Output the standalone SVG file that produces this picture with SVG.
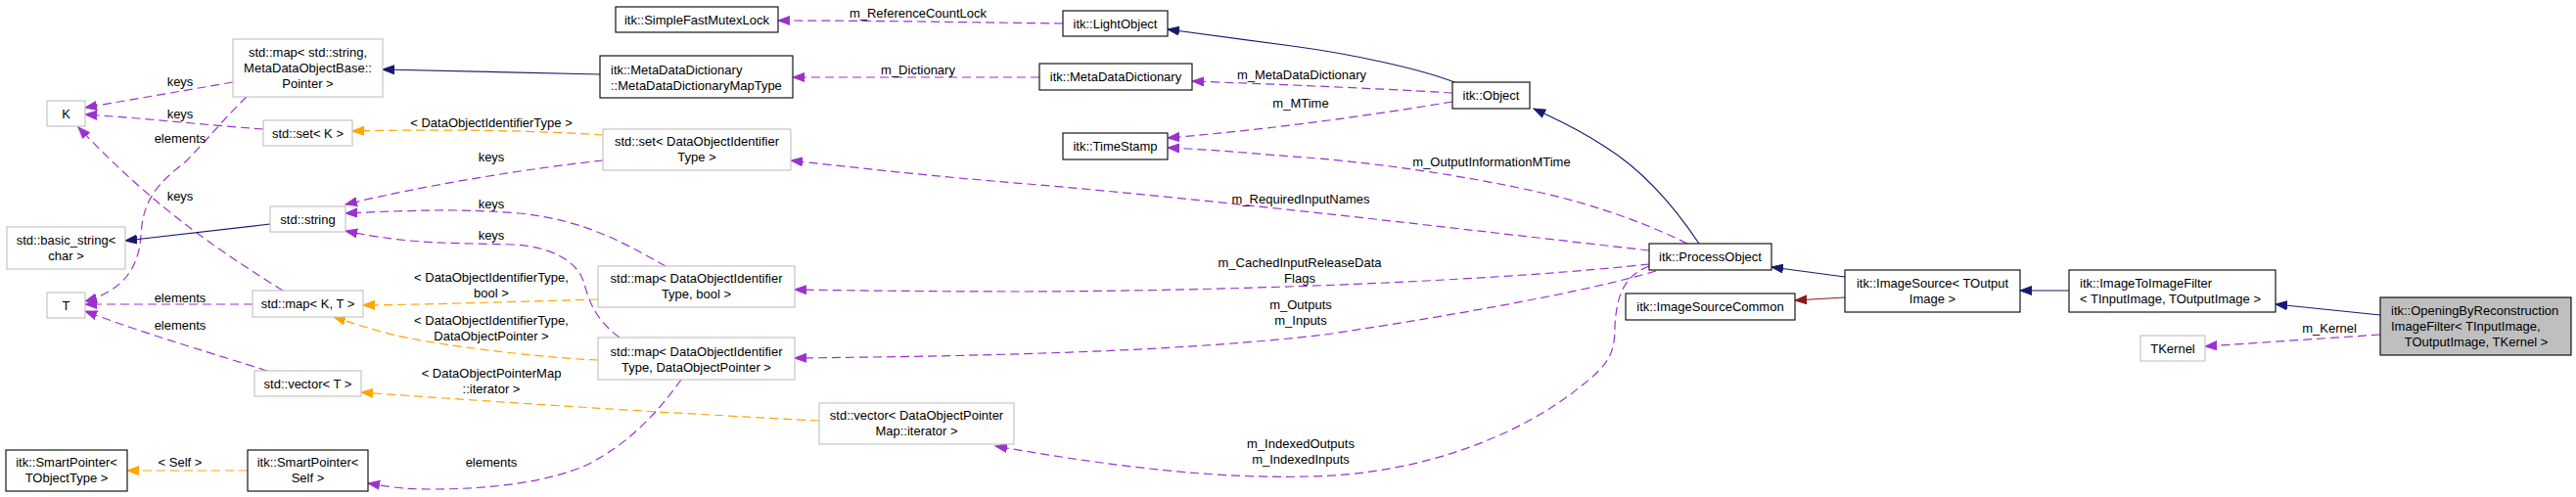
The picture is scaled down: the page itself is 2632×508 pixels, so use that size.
<svg xmlns="http://www.w3.org/2000/svg" width="2632" height="508" viewBox="0 0 2632 508">
<style>
text{font-family:"Liberation Sans",Arial,sans-serif;font-size:13px;fill:#000;text-anchor:middle}
.l{text-anchor:start}
.d rect{fill:#fff;stroke:#000;stroke-width:1.1}
.u rect{fill:#fff;stroke:#bfbfbf;stroke-width:1.1}
.f rect{fill:#bfbfbf;stroke:#000;stroke-width:1.1}
#edges path{fill:none;stroke-width:1.2}
.inh{stroke:#191970}
.prv{stroke:#8b1a1a}
.use{stroke:#9a32cd;stroke-dasharray:9,5}
.tpl{stroke:#ffa500;stroke-dasharray:9,5}
.inh{marker-end:url(#aN)}
.prv{marker-end:url(#aR)}
.use{marker-end:url(#aP)}
.tpl{marker-end:url(#aO)}
</style>
<defs>
<marker id="aN" markerUnits="userSpaceOnUse" markerWidth="13" markerHeight="10" viewBox="0 0 13 10" refX="12" refY="5" orient="auto"><path d="M0,0.5 L12,5 L0,9.5 z" fill="#191970" stroke="#191970"/></marker>
<marker id="aR" markerUnits="userSpaceOnUse" markerWidth="13" markerHeight="10" viewBox="0 0 13 10" refX="12" refY="5" orient="auto"><path d="M0,0.5 L12,5 L0,9.5 z" fill="#8b1a1a" stroke="#8b1a1a"/></marker>
<marker id="aP" markerUnits="userSpaceOnUse" markerWidth="13" markerHeight="10" viewBox="0 0 13 10" refX="12" refY="5" orient="auto"><path d="M0,0.5 L12,5 L0,9.5 z" fill="#9a32cd" stroke="#9a32cd"/></marker>
<marker id="aO" markerUnits="userSpaceOnUse" markerWidth="13" markerHeight="10" viewBox="0 0 13 10" refX="12" refY="5" orient="auto"><path d="M0,0.5 L12,5 L0,9.5 z" fill="#ffa500" stroke="#ffa500"/></marker>
</defs>
<rect x="0" y="0" width="2632" height="508" fill="#fff"/>

<g id="edges">
<path class="inh" d="M613,76 L391,71"/>
<path class="use" d="M238,84 L87,110"/>
<path class="use" d="M269,132 C200,127 150,121 87,117"/>
<path class="use" d="M289,297 C230,260 160,215 80,130"/>
<path class="use" d="M252,99 C232,118 214,140 190,165 C160,188 146,205 144,240 C142,275 125,297 87,308"/>
<path class="use" d="M258,311 L87,311"/>
<path class="use" d="M273,379 C220,362 150,342 87,318"/>
<path class="inh" d="M276,229 L128,246"/>
<path class="tpl" d="M616,138 C540,133 450,132 360,134"/>
<path class="use" d="M616,164 C540,172 430,190 353,209"/>
<path class="use" d="M680,272 C640,250 600,225 530,218 C470,213 420,215 353,218"/>
<path class="use" d="M633,345 C605,325 600,300 597,290 C590,265 560,252 525,250 C460,248 420,250 353,236"/>
<path class="tpl" d="M611,306 C540,308 450,311 371,312"/>
<path class="tpl" d="M611,368 C560,366 460,355 405,343 C380,337 360,330 341,324"/>
<path class="tpl" d="M837,430 C700,423 550,414 369,401"/>
<path class="tpl" d="M253,481 L130,481"/>
<path class="use" d="M696,388 C680,410 650,450 600,475 C560,493 500,500 440,500 C410,500 395,497 376,494"/>
<path class="use" d="M1086,24 C1000,23 900,21 795,21"/>
<path class="inh" d="M1486,84 C1450,70 1380,55 1320,47 C1270,40 1230,35 1193,30"/>
<path class="use" d="M1062,79 L810,79"/>
<path class="use" d="M1484,95 C1400,90 1300,86 1218,83"/>
<path class="use" d="M1484,104 C1400,118 1300,132 1193,141"/>
<path class="use" d="M1724,249 C1690,232 1640,212 1575,197 C1500,180 1400,165 1320,160 C1270,156 1240,153 1193,151"/>
<path class="use" d="M1685,256 C1500,235 1250,205 1050,188 C950,180 880,172 808,164"/>
<path class="use" d="M1685,270 C1550,285 1300,297 1050,298 C950,298 880,297 812,296"/>
<path class="use" d="M1692,277 C1620,298 1500,320 1354,342 C1200,360 1000,364 812,366"/>
<path class="use" d="M1685,272 C1660,282 1652,300 1650,333 C1650,360 1645,372 1615,395 C1560,440 1460,485 1337,487 C1220,490 1100,470 1017,456"/>
<path class="inh" d="M1736,249 C1710,210 1680,175 1640,150 C1610,130 1590,122 1567,111"/>
<path class="inh" d="M1885,283 L1810,273"/>
<path class="prv" d="M1885,304 L1834,307"/>
<path class="inh" d="M2114,297 L2064,297"/>
<path class="inh" d="M2432,322 L2325,311"/>
<path class="use" d="M2432,342 L2253,354"/>
</g>

<g id="edge-labels">
<text x="184" y="87.5">keys</text>
<text x="184" y="120.5">keys</text>
<text x="184" y="145.5">elements</text>
<text x="184" y="204.5">keys</text>
<text x="184" y="308.5">elements</text>
<text x="184" y="336.5">elements</text>
<text x="184" y="476.5">&lt; Self &gt;</text>
<text x="502" y="129.5">&lt; DataObjectIdentifierType &gt;</text>
<text x="502" y="164.5">keys</text>
<text x="502" y="212.5">keys</text>
<text x="502" y="244.5">keys</text>
<text x="502" y="287.5">&lt; DataObjectIdentifierType,</text>
<text x="502" y="303.5">bool &gt;</text>
<text x="502" y="331.5">&lt; DataObjectIdentifierType,</text>
<text x="502" y="347.5">DataObjectPointer &gt;</text>
<text x="502" y="385.5">&lt; DataObjectPointerMap</text>
<text x="502" y="401.5">::iterator &gt;</text>
<text x="502" y="476.5">elements</text>
<text x="938" y="17.5">m_ReferenceCountLock</text>
<text x="938" y="75.5">m_Dictionary</text>
<text x="1330" y="80.5">m_MetaDataDictionary</text>
<text x="1329" y="109.5">m_MTime</text>
<text x="1524" y="169.5">m_OutputInformationMTime</text>
<text x="1329" y="207.5">m_RequiredInputNames</text>
<text x="1328" y="272.5">m_CachedInputReleaseData</text>
<text x="1328" y="288.5">Flags</text>
<text x="1329" y="315.5">m_Outputs</text>
<text x="1329" y="331.5">m_Inputs</text>
<text x="1329" y="457.5">m_IndexedOutputs</text>
<text x="1329" y="473.5">m_IndexedInputs</text>
<text x="2380" y="339.5">m_Kernel</text>
</g>

<g id="node-map-string" class="u"><rect x="238" y="40" width="153" height="59"/><text x="314.5" y="57.5">std::map&lt; std::string,</text><text x="314.5" y="73.5">MetaDataObjectBase::</text><text x="314.5" y="89.5">Pointer &gt;</text></g>
<g id="node-K" class="u"><rect x="48" y="103" width="39" height="26"/><text x="67.5" y="121">K</text></g>
<g id="node-set-K" class="u"><rect x="269" y="123" width="91" height="26"/><text x="314.5" y="141">std::set&lt; K &gt;</text></g>
<g id="node-string" class="u"><rect x="276" y="211" width="77" height="26"/><text x="314.5" y="229">std::string</text></g>
<g id="node-basic-string" class="u"><rect x="7" y="232" width="121" height="43"/><text x="67.5" y="249.5">std::basic_string&lt;</text><text x="67.5" y="265.5">char &gt;</text></g>
<g id="node-T" class="u"><rect x="48" y="299" width="39" height="26"/><text x="67.5" y="317">T</text></g>
<g id="node-map-KT" class="u"><rect x="258" y="297" width="113" height="27"/><text x="314.5" y="315">std::map&lt; K, T &gt;</text></g>
<g id="node-vector-T" class="u"><rect x="260" y="379" width="109" height="26"/><text x="314.5" y="397">std::vector&lt; T &gt;</text></g>
<g id="node-sp-tobj" class="d"><rect x="6" y="460" width="124" height="42"/><text x="68" y="476.5">itk::SmartPointer&lt;</text><text x="68" y="492.5">TObjectType &gt;</text></g>
<g id="node-sp-self" class="d"><rect x="253" y="460" width="123" height="42"/><text x="314.5" y="476.5">itk::SmartPointer&lt;</text><text x="314.5" y="492.5">Self &gt;</text></g>
<g id="node-mutex" class="d"><rect x="629" y="7" width="166" height="26"/><text x="712" y="25">itk::SimpleFastMutexLock</text></g>
<g id="node-maptype" class="d"><rect x="613" y="57" width="197" height="43"/><text class="l" x="624" y="75.5">itk::MetaDataDictionary</text><text class="l" x="624" y="91.5">::MetaDataDictionaryMapType</text></g>
<g id="node-set-doit" class="u"><rect x="616" y="132" width="192" height="42"/><text x="712" y="148.5">std::set&lt; DataObjectIdentifier</text><text x="712" y="164.5">Type &gt;</text></g>
<g id="node-map-bool" class="u"><rect x="611" y="272" width="201" height="42"/><text x="711.5" y="288.5">std::map&lt; DataObjectIdentifier</text><text x="711.5" y="304.5">Type, bool &gt;</text></g>
<g id="node-map-dop" class="u"><rect x="611" y="345" width="201" height="43"/><text x="711.5" y="363.5">std::map&lt; DataObjectIdentifier</text><text x="711.5" y="379.5">Type, DataObjectPointer &gt;</text></g>
<g id="node-vector-iter" class="u"><rect x="837" y="412" width="199" height="42"/><text x="936.5" y="428.5">std::vector&lt; DataObjectPointer</text><text x="936.5" y="444.5">Map::iterator &gt;</text></g>
<g id="node-lightobject" class="d"><rect x="1086" y="11" width="107" height="26"/><text x="1139.5" y="29">itk::LightObject</text></g>
<g id="node-mdd" class="d"><rect x="1062" y="65" width="156" height="27"/><text x="1140" y="83">itk::MetaDataDictionary</text></g>
<g id="node-timestamp" class="d"><rect x="1086" y="136" width="107" height="27"/><text x="1139.5" y="154">itk::TimeStamp</text></g>
<g id="node-object" class="d"><rect x="1484" y="84" width="79" height="27"/><text x="1523.5" y="102">itk::Object</text></g>
<g id="node-processobject" class="d"><rect x="1685" y="249" width="125" height="27"/><text x="1747.5" y="267">itk::ProcessObject</text></g>
<g id="node-isc" class="d"><rect x="1661" y="300" width="173" height="27"/><text x="1747.5" y="318">itk::ImageSourceCommon</text></g>
<g id="node-imagesource" class="d"><rect x="1885" y="276" width="179" height="43"/><text x="1974.5" y="293.5">itk::ImageSource&lt; TOutput</text><text x="1974.5" y="309.5">Image &gt;</text></g>
<g id="node-i2i" class="d"><rect x="2114" y="276" width="211" height="43"/><text class="l" x="2125" y="293.5">itk::ImageToImageFilter</text><text class="l" x="2125" y="309.5">&lt; TInputImage, TOutputImage &gt;</text></g>
<g id="node-opening" class="f"><rect x="2432" y="304" width="195" height="59"/><text class="l" x="2443" y="321.5">itk::OpeningByReconstruction</text><text class="l" x="2443" y="337.5">ImageFilter&lt; TInputImage,</text><text x="2530" y="353.5">TOutputImage, TKernel &gt;</text></g>
<g id="node-tkernel" class="u"><rect x="2187" y="343" width="66" height="26"/><text x="2220" y="361">TKernel</text></g>
</svg>
